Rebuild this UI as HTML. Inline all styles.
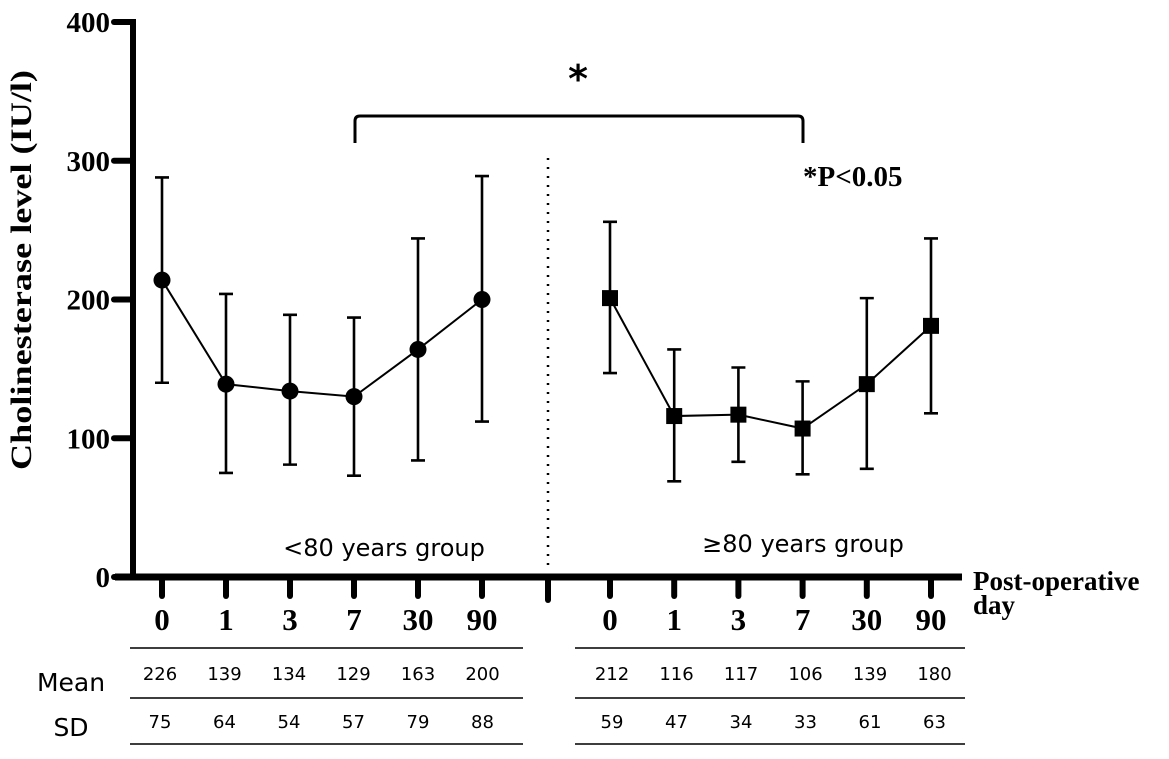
<!DOCTYPE html>
<html><head><meta charset="utf-8"><style>
html,body{margin:0;padding:0;background:#fff;}
svg{display:block;}
.serif{font-family:"Liberation Serif",serif;font-weight:bold;}
.sans{font-family:"DejaVu Sans","Liberation Sans",sans-serif;}
</style></head><body>
<svg id="chart" width="1169" height="759" viewBox="0 0 1169 759">
<g id="axes"></g><g id="marks"></g><g id="table"></g>
</svg>
<script>
const categories = ["0","1","3","7","30","90"];
const youngMean = [214,139,134,130,164,200];
const youngUpper = [288,204,189,187,244,289];
const youngLower = [140,75,81,73,84,112];
const oldMean = [201,116,117,107,139,181];
const oldUpper = [256,164,151,141,201,244];
const oldLower = [147,69,83,74,78,118];
const yTicks = [0,100,200,300,400];
const tableMeanYoung = ["226","139","134","129","163","200"];
const tableSdYoung = ["75","64","54","57","79","88"];
const tableMeanOld = ["212","116","117","106","139","180"];
const tableSdOld = ["59","47","34","33","61","63"];

const NS="http://www.w3.org/2000/svg";
function el(tag,attrs,parent,text){const e=document.createElementNS(NS,tag);for(const k in attrs)e.setAttribute(k,attrs[k]);if(text!==undefined)e.textContent=text;parent.appendChild(e);return e;}
const y=v=>577-v*1.3875;
const xLeft=i=>162+i*64;
const xRight=i=>610+i*64.2;
const axes=document.getElementById('axes'),marks=document.getElementById('marks'),table=document.getElementById('table');

let a=el('line',{x1:133,y1:19,x2:133,y2:580,stroke:'#000','stroke-width':6},axes);


yTicks.forEach(v=>{
  const t=el('line',{x1:114,y1:y(v),x2:133,y2:y(v),stroke:'#000','stroke-width':6,'stroke-linecap':'round'},axes);
  
  
  const l=el('text',{x:110,y:y(v)+10,'text-anchor':'end','font-size':29,class:'serif'},axes,String(v));
  
  
});
let yt=el('text',{x:0,y:0,transform:'translate(31,270) rotate(-90)','text-anchor':'middle','font-size':30,textLength:400,lengthAdjust:'spacingAndGlyphs',class:'serif'},axes,'Cholinesterase level (IU/l)');


let xa=el('line',{x1:115,y1:577,x2:962,y2:577,stroke:'#000','stroke-width':7},axes);


let br=el('line',{x1:548,y1:580,x2:548,y2:600,stroke:'#000','stroke-width':6,'stroke-linecap':'round'},axes);


[xLeft,xRight].forEach(fx=>{
  categories.forEach((c,i)=>{
    const t=el('line',{x1:fx(i),y1:580,x2:fx(i),y2:596,stroke:'#000','stroke-width':6,'stroke-linecap':'round'},axes);
    
    
    const l=el('text',{x:fx(i),y:630,'text-anchor':'middle','font-size':31,class:'serif'},axes,c);
    
    
  });
});
let xt=el('text',{x:973,y:590,'font-size':27,class:'serif'},axes,'Post-operative');


let xt2=el('text',{x:973,y:614,'font-size':27,class:'serif'},axes,'day');


let dv=el('line',{x1:548,y1:158,x2:548,y2:572,stroke:'#000','stroke-width':2.5,'stroke-dasharray':'2 7'},axes);


let bk=el('path',{d:'M355 143 V121 Q355 116 360 116 H798 Q803 116 803 121 V143',fill:'none',stroke:'#000','stroke-width':3},axes);


let st=el('text',{x:578,y:92,'text-anchor':'middle','font-size':38,'font-weight':'bold',class:'sans'},axes,'*');


let pv=el('text',{x:803,y:186,'font-size':29,class:'serif'},axes,'*P<0.05');


let g1=el('text',{x:384,y:556,'text-anchor':'middle','font-size':24,class:'sans'},axes,'<80 years group');


let g2=el('text',{x:803,y:552,'text-anchor':'middle','font-size':24,class:'sans'},axes,'≥80 years group');



function series(fx,mean,up,lo,shape,name){
  for(let i=0;i<mean.length;i++){
    const x=fx(i);
    const e=el('path',{d:`M${x} ${y(up[i])}V${y(lo[i])}M${x-7} ${y(up[i])}H${x+7}M${x-7} ${y(lo[i])}H${x+7}`,stroke:'#000','stroke-width':2.6,fill:'none'},marks);
    
    
  }
  const pts=mean.map((v,i)=>fx(i)+','+y(v)).join(' ');
  const ln=el('polyline',{points:pts,fill:'none',stroke:'#000','stroke-width':2},marks);
  
  
  mean.forEach((v,i)=>{
    let m;
    if(shape==='circle') m=el('circle',{cx:fx(i),cy:y(v),r:8.5,fill:'#000'},marks);
    else m=el('rect',{x:fx(i)-8,y:y(v)-8,width:16,height:16,fill:'#000'},marks);
    
    
  });
}
series(xLeft,youngMean,youngUpper,youngLower,'circle','young');
series(xRight,oldMean,oldUpper,oldLower,'square','old');

[[130,523],[575,965]].forEach(([x1,x2])=>{
  [648,698,744].forEach(yy=>{
    const l=el('line',{x1:x1,y1:yy,x2:x2,y2:yy,stroke:'#222','stroke-width':1.8},table);
    
    
  });
});
let mh=el('text',{x:71,y:691,'text-anchor':'middle','font-size':25,class:'sans'},table,'Mean');


let sh=el('text',{x:71,y:736,'text-anchor':'middle','font-size':25,class:'sans'},table,'SD');


function row(arr,fx,yy,name){
  arr.forEach((s,i)=>{
    const t=el('text',{x:fx(i),y:yy,'text-anchor':'middle','font-size':18,class:'sans'},table,s);
    
    
  });
}
const tl=i=>160+i*64.5, tr=i=>612+i*64.5;
row(tableMeanYoung,tl,680,'young-mean-cell');
row(tableSdYoung,tl,728,'young-sd-cell');
row(tableMeanOld,tr,680,'old-mean-cell');
row(tableSdOld,tr,728,'old-sd-cell');
</script>
</body></html>
